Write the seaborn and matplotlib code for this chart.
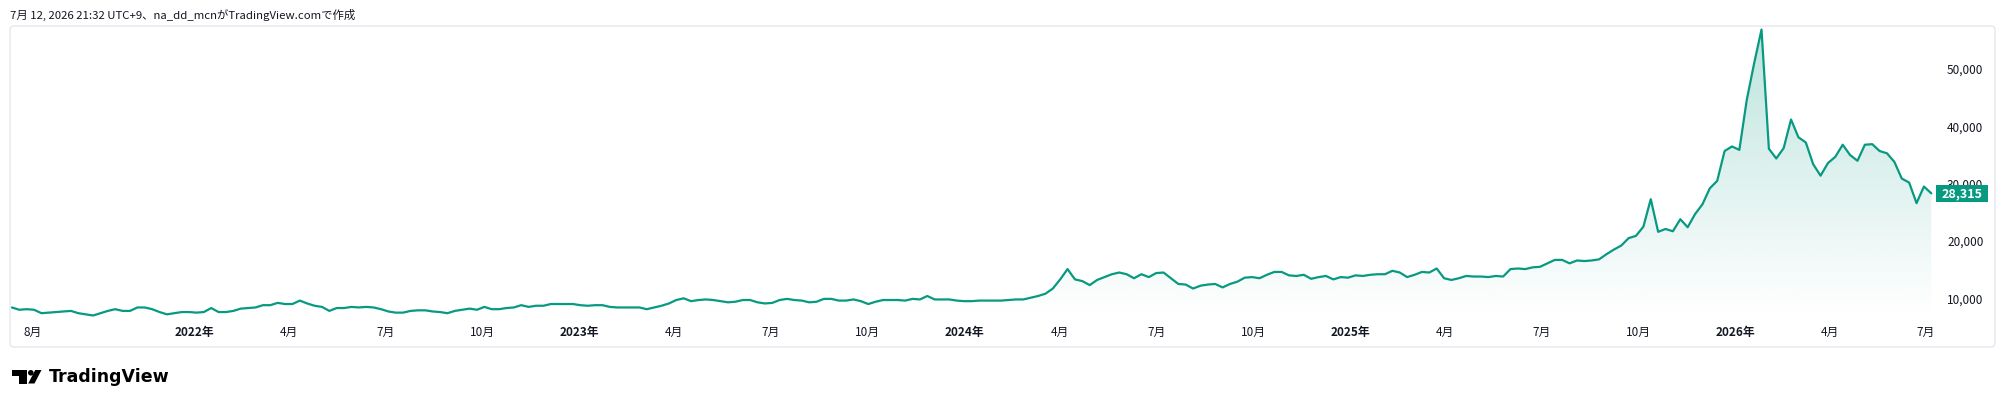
import numpy as np
import pandas as pd
import matplotlib
matplotlib.use("Agg")
import matplotlib.pyplot as plt
import matplotlib.dates as mdates
import matplotlib.transforms as mtransforms
from matplotlib.patches import FancyBboxPatch, Polygon, Circle
import seaborn as sns

# ---------------- data (weekly closes, in thousands) ----------------
first_week = "2021-07-12"
close_2021_22 = [8.4, 8.0, 8.1, 8.0, 7.4, 7.5, 7.6, 7.7, 7.8, 7.4, 7.2, 7.0, 7.4, 7.8,
                 8.1, 7.8, 7.8, 8.4, 8.4, 8.1, 7.6, 7.2, 7.4, 7.6, 7.6, 7.5, 7.6, 8.3,
                 7.6, 7.6, 7.8, 8.2, 8.3, 8.4, 8.8, 8.8, 9.2, 9.0, 9.0, 9.6, 9.1, 8.7,
                 8.5, 7.8, 8.3, 8.3, 8.5, 8.4, 8.5, 8.4, 8.1, 7.7, 7.5]
close_2022_23 = [7.5, 7.8, 7.9, 7.9, 7.7, 7.6, 7.4, 7.8, 8.0, 8.2, 8.0, 8.5, 8.1, 8.1,
                 8.3, 8.4, 8.8, 8.5, 8.7, 8.7, 9.0, 9.0, 9.0, 9.0, 8.8, 8.7, 8.8, 8.8,
                 8.5, 8.4, 8.4, 8.4, 8.4, 8.1, 8.4, 8.7, 9.1, 9.7, 10.0, 9.5, 9.7, 9.8,
                 9.7, 9.5, 9.3, 9.4, 9.7, 9.7, 9.3, 9.1, 9.2, 9.7, 9.9, 9.7, 9.6]
close_2023_24 = [9.3, 9.4, 9.9, 9.9, 9.6, 9.6, 9.8, 9.5, 9.0, 9.4, 9.7, 9.7, 9.7, 9.6,
                 9.9, 9.8, 10.4, 9.8, 9.8, 9.8, 9.6, 9.5, 9.5, 9.6, 9.6, 9.6, 9.6, 9.7,
                 9.8, 9.8, 10.1, 10.4, 10.8, 11.7, 13.3, 15.1, 13.3, 13.0, 12.3, 13.2,
                 13.7, 14.2, 14.5, 14.2, 13.5, 14.2, 13.7, 14.4, 14.5, 13.5, 12.5, 12.4,
                 11.7, 12.2]
close_2024_25 = [12.4, 12.5, 11.9, 12.5, 12.9, 13.6, 13.7, 13.5, 14.1, 14.6, 14.6, 14.0,
                 13.9, 14.1, 13.4, 13.7, 13.9, 13.3, 13.7, 13.6, 14.0, 13.9, 14.1, 14.2,
                 14.2, 14.8, 14.5, 13.7, 14.1, 14.6, 14.5, 15.2, 13.5, 13.2, 13.5, 13.9,
                 13.8, 13.8, 13.7, 13.9]
close_2025 = [13.8, 15.1, 15.2, 15.1, 15.4, 15.5, 16.1, 16.7, 16.7, 16.1, 16.6, 16.5,
              16.6, 16.8, 17.7, 18.5, 19.2, 20.5, 20.9, 22.5, 27.3, 21.6, 22.1, 21.7,
              23.8, 22.4, 24.7, 26.4, 29.2, 30.5]
close_2026 = [35.7, 36.5, 35.9, 44.6, 51.0, 56.9, 36.1, 34.4, 36.2, 41.2, 38.1, 37.2,
              33.4, 31.4, 33.6, 34.7, 36.8, 35.0, 34.0, 36.8, 36.9, 35.7, 35.3, 33.8,
              30.9, 30.2, 26.6, 29.5, 28.315]

tick_dates = ["2021-08-01", "2022-01-01", "2022-04-01", "2022-07-01", "2022-10-01",
              "2023-01-01", "2023-04-01", "2023-07-01", "2023-10-01", "2024-01-01",
              "2024-04-01", "2024-07-01", "2024-10-01", "2025-01-01", "2025-04-01",
              "2025-07-01", "2025-10-01", "2026-01-01", "2026-04-01", "2026-07-01"]
tick_labels = ["8月", "2022年", "4月", "7月", "10月", "2023年", "4月", "7月", "10月",
               "2024年", "4月", "7月", "10月", "2025年", "4月", "7月", "10月",
               "2026年", "4月", "7月"]
price_ticks = [10000, 20000, 30000, 40000, 50000]
price_labels = ["10,000", "20,000", "30,000", "40,000", "50,000"]
header_text = "7月 12, 2026 21:32 UTC+9、na_dd_mcnがTradingView.comで作成"
brand_text = "TradingView"

# ---------------- styling ----------------
LINE = "#089981"
TEXT = "#131722"
W, H = 2004, 407

sns.set_theme(style="white")
plt.rcParams["font.family"] = ["Noto Sans CJK JP", "DejaVu Sans"]

closes = np.concatenate([close_2021_22, close_2022_23, close_2023_24,
                         close_2024_25, close_2025, close_2026]) * 1000
dates = pd.date_range(first_week, periods=len(closes), freq="7D")
df = pd.DataFrame({"date": dates, "close": closes})

fig = plt.figure(figsize=(W / 100, H / 100), dpi=100)
fig.patch.set_facecolor("white")

# pane: x 10..1995, y 26..318 (pixels from top)
ax = fig.add_axes([10 / W, 1 - 318 / H, 1985 / W, 292 / H])
ax.set_facecolor("none")

sns.lineplot(data=df, x="date", y="close", ax=ax, color=LINE, lw=1.6, zorder=3)

ref = pd.Timestamp("2021-08-01")
x_left = mdates.date2num(ref - pd.Timedelta(days=21.8))
x_right = mdates.date2num(ref + pd.Timedelta(days=1860.4))
y_bot, y_top = 6562, 57520

# gradient area fill
xnum = mdates.date2num(df["date"])
poly = ax.fill_between(xnum, df["close"], y_bot, color="none", lw=0)
clip_path = poly.get_paths()[0]
n = 256
rgba = np.zeros((n, 1, 4))
rgba[..., 0] = 8 / 255
rgba[..., 1] = 153 / 255
rgba[..., 2] = 129 / 255
rgba[..., 3] = np.linspace(0.0, 0.27, n).reshape(-1, 1)
im = ax.imshow(rgba, extent=[xnum[0], xnum[-1], y_bot, y_top], origin="lower",
               aspect="auto", zorder=1, interpolation="bilinear")
im.set_clip_path(clip_path, transform=ax.transData)

ax.set_xlim(x_left, x_right)
ax.set_ylim(y_bot, y_top)
for s in ax.spines.values():
    s.set_visible(False)
ax.set_xlabel("")
ax.set_ylabel("")
ax.grid(False)

# x ticks
ax.set_xticks(mdates.date2num(pd.to_datetime(tick_dates)))
ax.set_xticklabels(tick_labels)
ax.tick_params(axis="x", length=0, pad=5.5, labelsize=8.5, colors=TEXT)
for lab in ax.get_xticklabels():
    if "年" in lab.get_text():
        lab.set_fontweight("bold")

# y ticks (price scale inside right)
ax.yaxis.tick_right()
ax.set_yticks(price_ticks)
ax.set_yticklabels(price_labels)
ax.tick_params(axis="y", length=0, pad=-48 * 0.72, labelsize=8.5, colors=TEXT)

ident = mtransforms.IdentityTransform()

# last price label (box placed at the last close through the axis scale)
_, y_last = ax.transData.transform((xnum[-1], closes[-1]))
price_box = FancyBboxPatch((1936, y_last - 8.5), 52, 17, boxstyle="square,pad=0",
                           transform=ident, fc=LINE, ec="none", zorder=6)
fig.add_artist(price_box)
fig.text(1962 / W, y_last / H, f"{int(round(closes[-1])):,}", color="white",
         fontweight="bold", fontsize=9, va="center", ha="center", zorder=7)

# frame
frame = FancyBboxPatch((10, H - 347), 1985, 321, boxstyle="round,pad=0,rounding_size=4",
                       transform=ident, fill=False, ec="#e6e8ee", lw=1.0)
fig.add_artist(frame)

# header
fig.text(10 / W, 1 - 14.5 / H, header_text, fontsize=8.2, color=TEXT, va="center", ha="left")

# TradingView logo mark
def P(x, y):
    return (x, H - y)

mark1 = Polygon([P(12.3, 370), P(26.7, 370), P(26.7, 383.5), P(19, 383.5), P(19, 376),
                 P(12.3, 376)], closed=True, transform=ident, fc="black", ec="none")
dot = Circle(P(30.8, 372.8), 2.8, transform=ident, fc="black", ec="none")
mark2 = Polygon([P(35.2, 370), P(41.5, 370), P(34.5, 383.5), P(28.2, 383.5)], closed=True,
                transform=ident, fc="black", ec="none")
for p in (mark1, dot, mark2):
    fig.add_artist(p)
fig.text(49 / W, 1 - 377 / H, brand_text, fontsize=12.5, fontweight="bold", color="black",
         va="center", ha="left", family=["DejaVu Sans"])

fig.savefig("out.png", dpi=100, facecolor="white")
